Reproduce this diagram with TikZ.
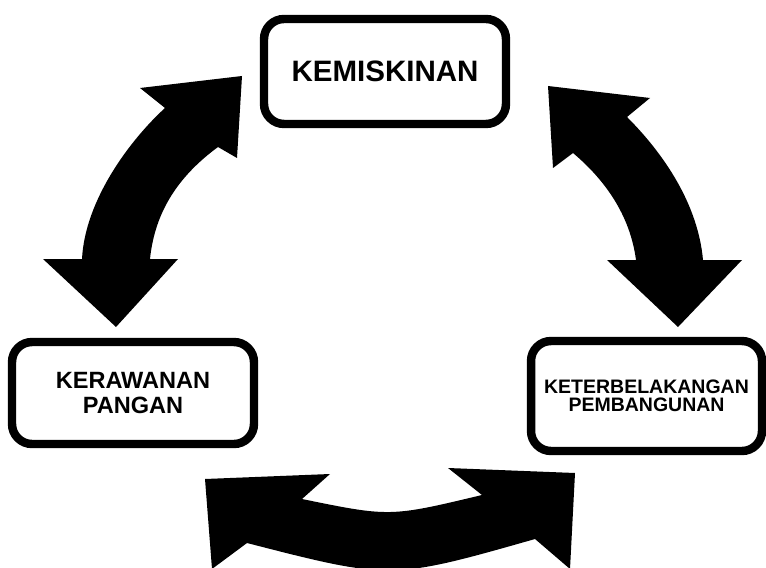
\documentclass[tikz,border=0pt]{standalone}
\usepackage{fontspec}
\setmainfont{Liberation Sans}

\begin{document}
\begin{tikzpicture}[x=0.02cm,y=-0.02cm,
    box/.style={draw,line width=4.8pt,rounded corners=0.4cm,fill=white,align=center},
    bigarrow/.style={fill=black}]
  \useasboundingbox (0,0) rectangle (766,567);
  \clip (0,0) rectangle (766,567);

  % arrows
  \fill[bigarrow] (242,76) -- (140,88) -- (165,108) .. controls (130,140) and (85,200) .. (82,259)
      -- (43,259) -- (116,327) -- (178,259) -- (150,259)
      .. controls (155,210) and (180,175) .. (218,147) -- (237,158) -- cycle;
  \fill[bigarrow] (548,86) -- (650,98) -- (627,117) .. controls (665,155) and (698,205) .. (703,260)
      -- (742,260) -- (678,327) -- (607,260) -- (636,260)
      .. controls (630,215) and (605,180) .. (573,153) -- (553,168) -- cycle;
  \fill[bigarrow] (205,479) -- (330,474) -- (302,499) .. controls (390,517) .. (482,495)
      -- (448,468) -- (575,473) -- (570,569) -- (535,539)
      .. controls (391,580) .. (247,543) -- (212,569) -- cycle;

  % boxes
  \node[box,minimum width=4.84cm,minimum height=2.1cm,
        font=\bfseries\fontsize{16.8}{18}\selectfont] (kemiskinan) at (385,71.5) {KEMISKINAN};
  \node[box,minimum width=4.84cm,minimum height=2.04cm,
        font=\bfseries\fontsize{13.4}{14}\selectfont] (kerawanan) at (133,393) {KERAWANAN\\PANGAN};
  \node[box,minimum width=4.62cm,minimum height=2.2cm,
        font=\bfseries\fontsize{11.1}{10.5}\selectfont] (keterbelakangan) at (646.5,396) {KETERBELAKANGAN\\PEMBANGUNAN};
\end{tikzpicture}
\end{document}
